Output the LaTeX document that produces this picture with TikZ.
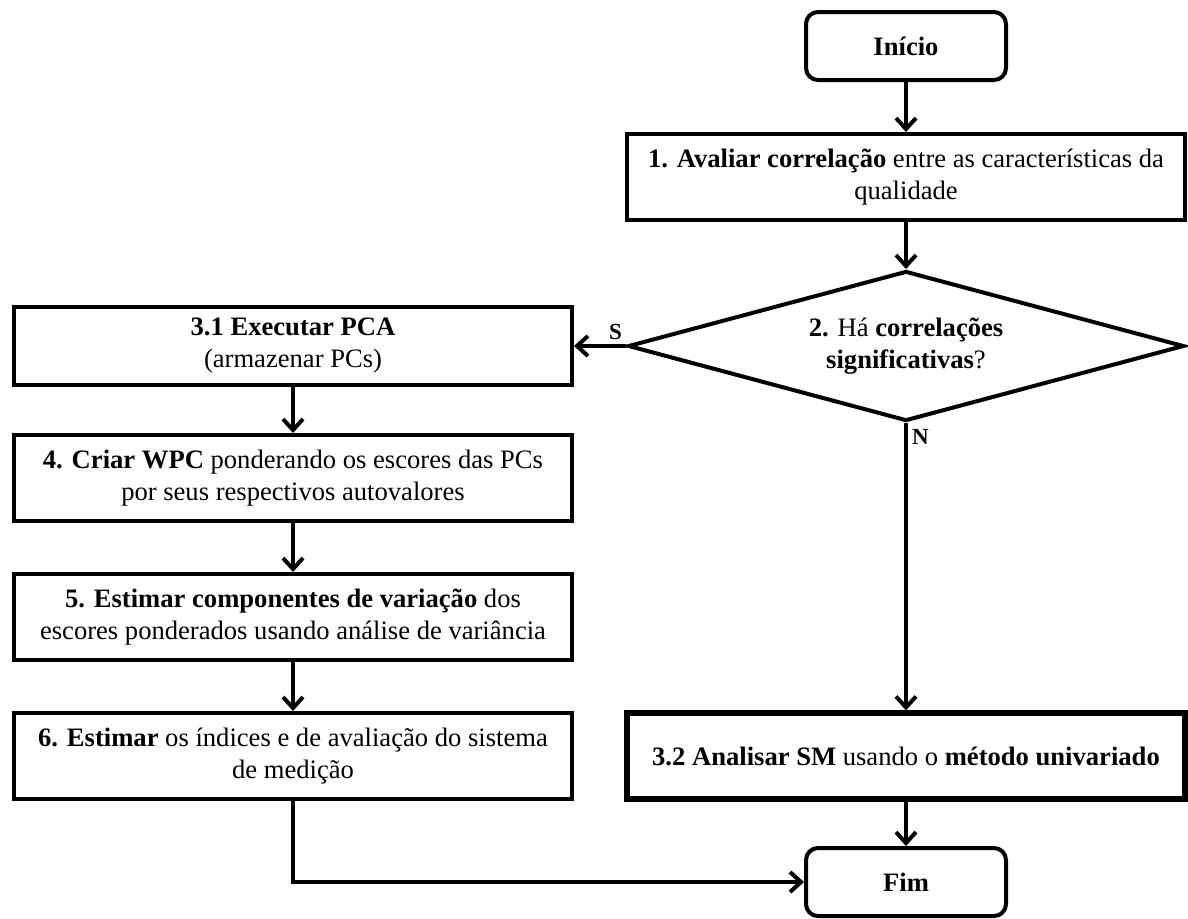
\documentclass[tikz,border=0pt]{standalone}
\usepackage{fontspec}
\setmainfont{Liberation Serif}
\usetikzlibrary{shapes.geometric}
\usetikzlibrary{arrows.meta}

\begin{document}
\begin{tikzpicture}[x=0.5pt, y=-0.5pt,
    caixa/.style={draw, line width=2pt, align=center, inner sep=2pt,
      minimum width=279pt, minimum height=43pt, font=\fontsize{13.3}{16}\selectfont},
    terminal/.style={caixa, rounded corners=6pt, minimum width=100pt, minimum height=34pt},
    losango/.style={caixa, diamond, aspect=3.68, inner sep=0pt,
      minimum width=278pt, minimum height=75pt},
    seta/.style={line width=2pt, -{Straight Barb[length=5.5pt, width=10pt]}},
    rotulo/.style={font=\fontsize{11.5}{13}\selectfont\bfseries, inner sep=2pt}
  ]
          \useasboundingbox (0,0) rectangle (1188,918);
          \node [terminal] (inicio) at (906,46) {\textbf{Início}};
          \node [caixa] (passo1) at (906,177)
            {\textbf{1. Avaliar correlação} entre as características da\\qualidade};
          \node [losango] (passo2) at (906,346)
            {\textbf{2.} Há \textbf{correlações}\\\textbf{significativas}?};
          \node [caixa, minimum height=39pt] (passo31) at (293,346)
            {\textbf{3.1 Executar PCA}\\(armazenar PCs)};
          \node [caixa] (passo4) at (293,478)
            {\textbf{4. Criar WPC} ponderando os escores das PCs\\por seus respectivos autovalores};
          \node [caixa] (passo5) at (293,617)
            {\textbf{5. Estimar componentes de variação} dos\\escores ponderados usando análise de variância};
          \node [caixa] (passo6) at (293,756)
            {\textbf{6. Estimar} os índices e de avaliação do sistema\\de medição};
          \node [caixa, line width=2.6pt] (passo32) at (906,756)
            {\textbf{3.2 Analisar SM} usando o \textbf{método univariado}};
          \node [terminal] (fim) at (906,882) {\textbf{Fim}};
          \draw [seta] (inicio) -- (passo1);
          \draw [seta] (passo1) -- (passo2);
          \draw [seta] (passo2.west) -- node [rotulo, above, pos=.2] (sim) {S} (passo31.east);
          \draw [seta] (passo2.south) -- node [rotulo, right, pos=.05] (nao) {N} (passo32.north);
          \foreach \de/\para in {passo31/passo4, passo4/passo5, passo5/passo6}{
            \draw [seta] (\de) -- (\para);
          }
          \draw [seta] (passo32) -- (fim);
          \draw [seta] (passo6.south) |- (fim.west);
        \end{tikzpicture}
\end{document}
